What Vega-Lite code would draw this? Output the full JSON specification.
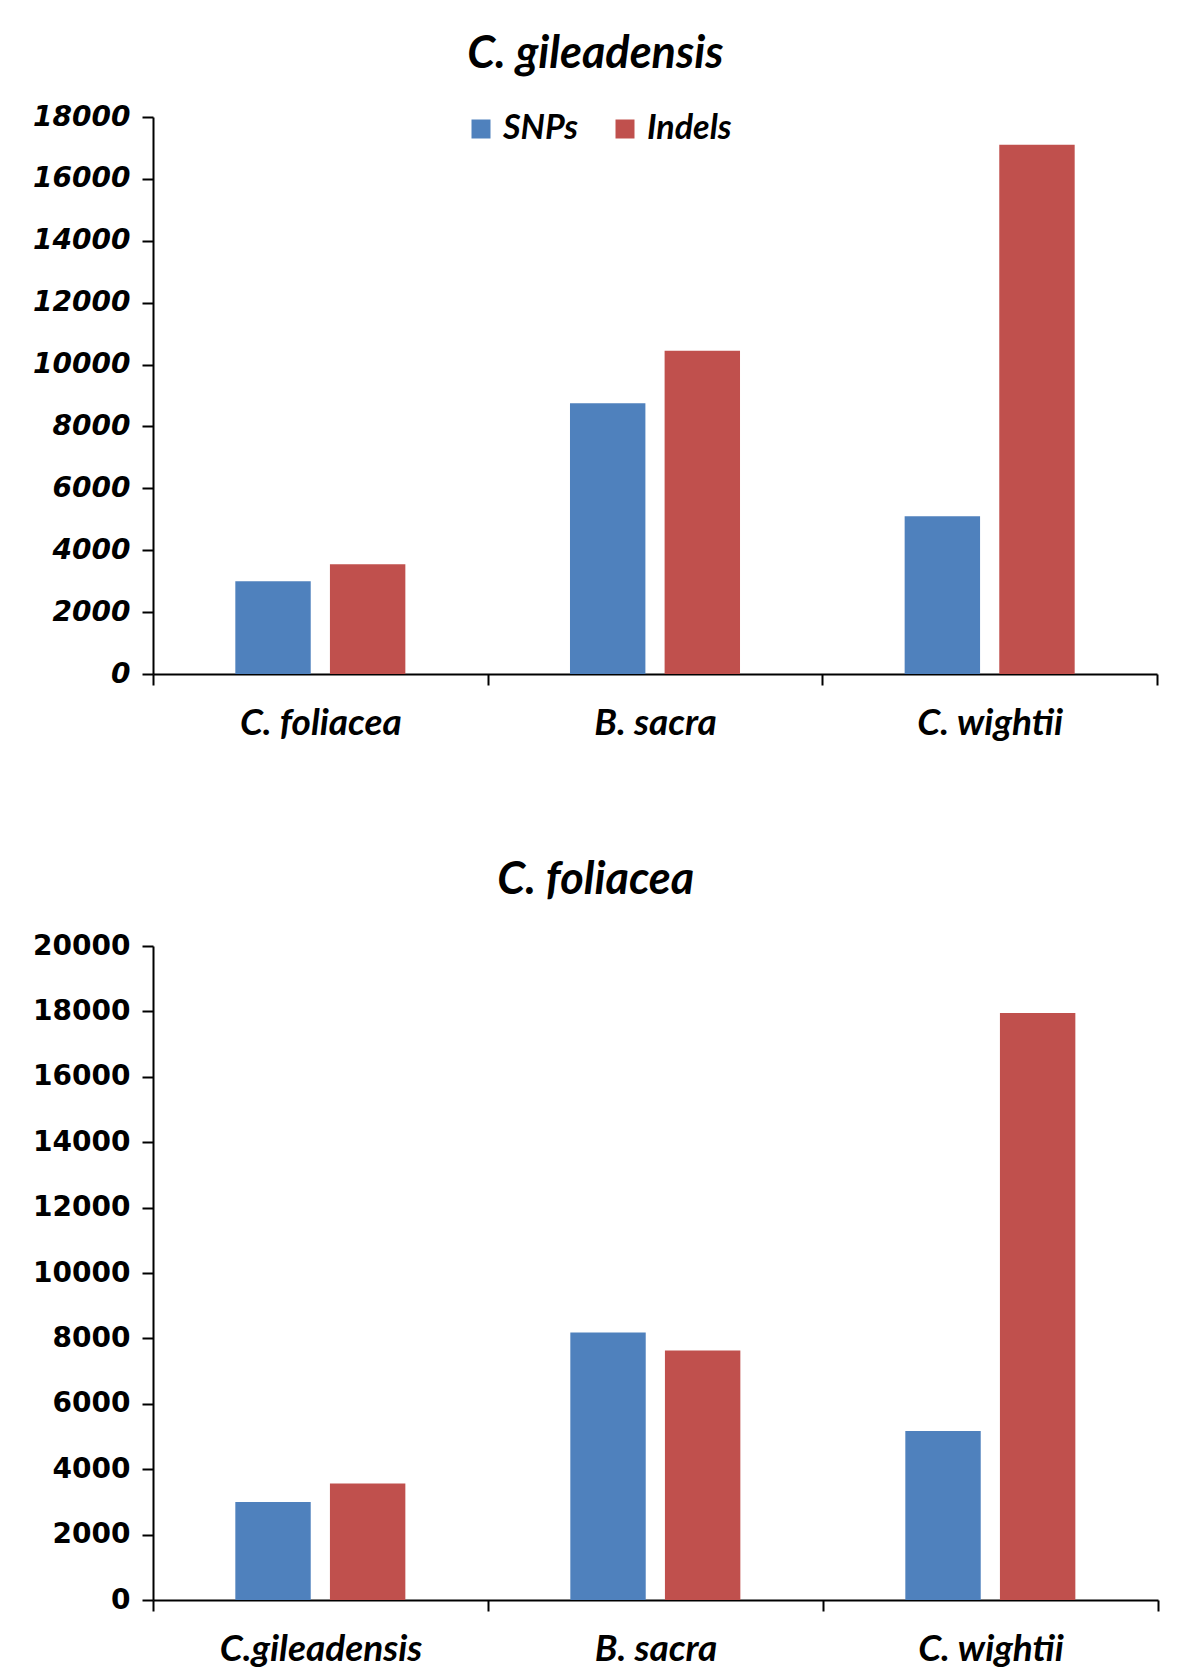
{
  "$schema": "https://vega.github.io/schema/vega-lite/v6.json",
  "background": "white",
  "padding": {"left": 32, "top": 32, "right": 5, "bottom": 0},
  "spacing": 117,
  "config": {
    "view": {"stroke": null},
    "axis": {
      "domainColor": "black", "domainWidth": 2, "tickColor": "black", "tickWidth": 2, "tickSize": 11,
      "grid": false, "title": null, "labelColor": "black", "labelLimit": 0
    }
  },
  "resolve": {"scale": {"color": "independent"}, "legend": {"color": "independent"}},
  "vconcat": [
    {
      "title": {"text": "C. gileadensis", "font": "Lato", "fontSize": 45, "fontStyle": "italic", "fontWeight": "bold", "color": "black", "frame": "bounds", "anchor": "middle", "offset": 26},
      "width": 1004, "height": 557,
      "data": {"values": [
        {"species": "C. foliacea", "type": "SNPs", "value": 3000},
        {"species": "C. foliacea", "type": "Indels", "value": 3550},
        {"species": "B. sacra", "type": "SNPs", "value": 8750},
        {"species": "B. sacra", "type": "Indels", "value": 10450},
        {"species": "C. wightii", "type": "SNPs", "value": 5100},
        {"species": "C. wightii", "type": "Indels", "value": 17100}
      ]},
      "mark": {"type": "bar"},
      "encoding": {
        "x": {"field": "species", "type": "nominal", "sort": ["C. foliacea", "B. sacra", "C. wightii"],
          "scale": {"paddingInner": 0, "paddingOuter": 0},
          "axis": {"labelAngle": 0, "tickBand": "extent", "labelFont": "Lato", "labelFontSize": 37, "labelFontStyle": "italic", "labelFontWeight": "bold", "labelPadding": 20}},
        "xOffset": {"field": "type", "type": "nominal", "sort": ["SNPs", "Indels"], "scale": {"paddingInner": 0.203, "paddingOuter": 0.87}},
        "y": {"field": "value", "type": "quantitative", "scale": {"domain": [0, 18000]},
          "axis": {"values": [0, 2000, 4000, 6000, 8000, 10000, 12000, 14000, 16000, 18000], "format": "d", "labelFont": "DejaVu Sans", "labelFontSize": 28, "labelFontStyle": "italic", "labelFontWeight": "bold", "labelPadding": 12}},
        "color": {"field": "type", "type": "nominal", "sort": ["SNPs", "Indels"],
          "scale": {"domain": ["SNPs", "Indels"], "range": ["#4f81bd", "#c0504d"]},
          "legend": {"title": null, "orient": "none", "legendX": 311, "legendY": -5, "direction": "horizontal", "symbolType": "square", "symbolSize": 361, "symbolStrokeWidth": 0, "labelFont": "Lato", "labelFontSize": 34, "labelFontStyle": "italic", "labelFontWeight": "bold", "labelColor": "black", "labelOffset": 5, "columnPadding": 29}}
      }
    },
    {
      "title": {"text": "C. foliacea", "font": "Lato", "fontSize": 45, "fontStyle": "italic", "fontWeight": "bold", "color": "black", "frame": "bounds", "anchor": "middle", "offset": 29},
      "width": 1005, "height": 654,
      "data": {"values": [
        {"species": "C.gileadensis", "type": "SNPs", "value": 3000},
        {"species": "C.gileadensis", "type": "Indels", "value": 3560},
        {"species": "B. sacra", "type": "SNPs", "value": 8180},
        {"species": "B. sacra", "type": "Indels", "value": 7630},
        {"species": "C. wightii", "type": "SNPs", "value": 5170},
        {"species": "C. wightii", "type": "Indels", "value": 17950}
      ]},
      "mark": {"type": "bar"},
      "encoding": {
        "x": {"field": "species", "type": "nominal", "sort": ["C.gileadensis", "B. sacra", "C. wightii"],
          "scale": {"paddingInner": 0, "paddingOuter": 0},
          "axis": {"labelAngle": 0, "tickBand": "extent", "labelFont": "Lato", "labelFontSize": 37, "labelFontStyle": "italic", "labelFontWeight": "bold", "labelPadding": 20}},
        "xOffset": {"field": "type", "type": "nominal", "sort": ["SNPs", "Indels"], "scale": {"paddingInner": 0.203, "paddingOuter": 0.87}},
        "y": {"field": "value", "type": "quantitative", "scale": {"domain": [0, 20000]},
          "axis": {"values": [0, 2000, 4000, 6000, 8000, 10000, 12000, 14000, 16000, 18000, 20000], "format": "d", "labelFont": "DejaVu Sans", "labelFontSize": 28, "labelFontWeight": "bold", "labelPadding": 12}},
        "color": {"field": "type", "type": "nominal", "sort": ["SNPs", "Indels"],
          "scale": {"domain": ["SNPs", "Indels"], "range": ["#4f81bd", "#c0504d"]},
          "legend": null}
      }
    }
  ]
}
